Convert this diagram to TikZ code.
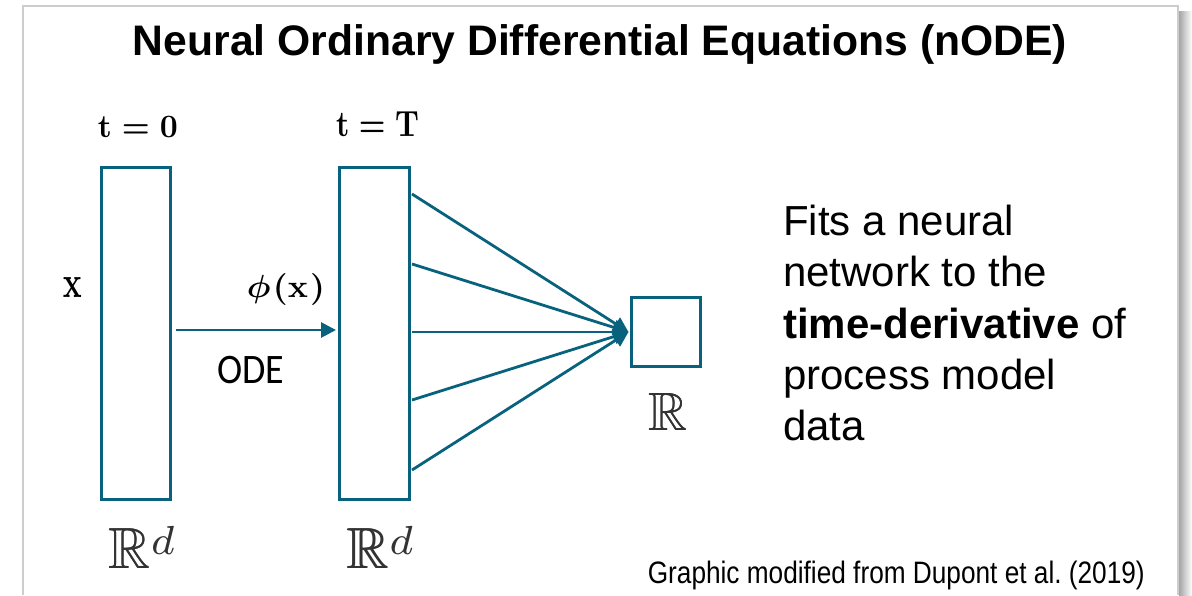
\RequirePackage{fix-cm}
\documentclass[tikz,border=0pt]{standalone}
\usepackage{amssymb}
\usepackage{graphicx}
\usepackage[no-math]{fontspec}
\setmainfont{Liberation Sans}
\newfontfamily\odefont{Carlito}
\usetikzlibrary{arrows.meta,calc}
\definecolor{nodeteal}{RGB}{8,98,126}
\definecolor{framegray}{RGB}{205,205,205}
\tikzset{
  layerbox/.style={draw=nodeteal, line width=3pt, inner sep=0pt, fill=white},
  conn/.style={draw=nodeteal, line width=2.8pt, -{Triangle[length=15pt,width=15pt]}},
  mathlbl/.style={inner sep=0pt, font=\normalsize\boldmath},
  setlbl/.style={inner sep=0pt, text=black!80, font=\normalsize},
}
\newcommand{\heavy}[1]{\makebox[0pt][l]{#1}\hspace{0.12pt}#1}
\newcommand{\Rdim}{\scalebox{5.8}{\heavy{$\mathbb{R}$}\raisebox{2.4pt}{$\scriptstyle d$}}}
\begin{document}
\begin{tikzpicture}[x=1pt,y=-1pt]
\useasboundingbox (0,0) rectangle (1192,595);
% slide frame with shadow
\shade[left color=black!35, right color=white] (1179,11) rectangle (1192,595);
\draw[framegray, line width=2pt] (23,595) -- (23,6) -- (1178,6) -- (1178,595);

% title
\node[inner sep=0pt, anchor=base, font=\fontsize{42.7}{48}\selectfont\bfseries] (title) at (600,55)
  {\resizebox{934pt}{\height}{Neural Ordinary Differential Equations (nODE)}};

% boxes
\node[layerbox, minimum width=69pt, minimum height=332pt] (b1) at (136,333) {};
\node[layerbox, minimum width=70pt, minimum height=332pt] (b2) at (374,333) {};
\node[layerbox, minimum width=69pt, minimum height=69pt] (out) at (666,332) {};

% labels
\node[mathlbl, anchor=base] (t0) at (138,137) {\resizebox{80pt}{21pt}{$\mathrm{t}=0$}};
\node[mathlbl, anchor=base] (tT) at (377.5,136) {\resizebox{83pt}{25pt}{$\mathrm{t}=\mathrm{T}$}};
\node[mathlbl, anchor=base] (xin) at (72.5,297) {\resizebox{19pt}{20pt}{$\mathrm{x}$}};
\node[mathlbl, anchor=base] (phi) at (286,297) {\resizebox{78pt}{24pt}{$\phi\mkern1mu(\mathrm{x}\mkern1mu)$}};
\node[inner sep=0pt, anchor=base, font=\fontsize{42}{48}\odefont] (ode) at (251,383) {\resizebox{67pt}{\height}{ODE}};

\node[setlbl, anchor=base] (r1) at (141.5,568) {\Rdim};
\node[setlbl, anchor=base] (r2) at (380,568) {\Rdim};
\node[setlbl, anchor=base] (r3) at (668,430) {\scalebox{5.4}{\heavy{$\mathbb{R}$}}};

% connectors
\draw[conn] ($(b1.east)+(4,-3)$) -- ($(b2.west)+(-1.5,-3)$);
\foreach \dy in {-139,-69,-1,67,137}{
  \draw[conn] ($(b2.east)+(1.5,\dy)$) -- ($(out.west)+(-1.5,0)$);
}

% right text
\node[inner sep=0pt, anchor=north west, align=left, font=\fontsize{42}{51.2}\selectfont] (desc) at (783,205)
  {Fits a neural\\network to the\\\textbf{time-derivative} of\\process model\\data};

% source
\node[inner sep=0pt, anchor=base east, font=\fontsize{31}{34}\selectfont] (src) at (1145,583)
  {\resizebox{497pt}{\height}{Graphic modified from Dupont et al.\ (2019)}};
\end{tikzpicture}
\end{document}
